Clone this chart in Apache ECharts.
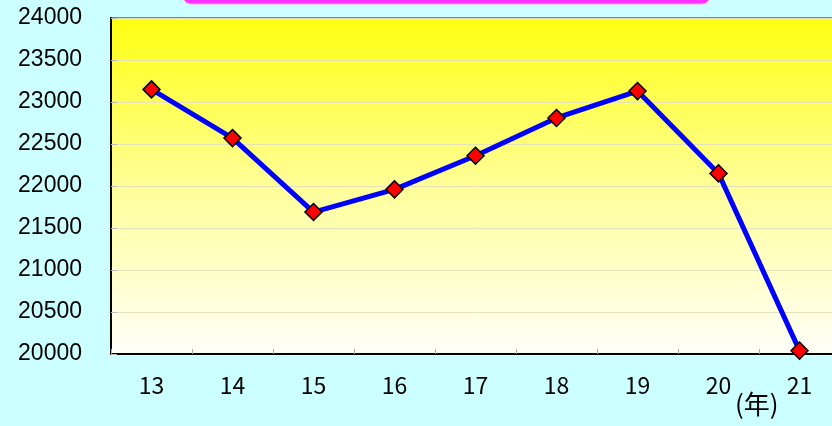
<!DOCTYPE html>
<html>
<head>
<meta charset="utf-8">
<script src="https://cdn.jsdelivr.net/npm/echarts@6/dist/echarts.min.js"></script>
<style>
  html, body { margin: 0; padding: 0; background: #ccffff; overflow: hidden; }
  #chart { width: 840px; height: 426px; }
</style>
</head>
<body>
<div id="chart"></div>
<script>
// 年（平成）
const years = ['13', '14', '15', '16', '17', '18', '19', '20', '21']
const values = [23150, 22570, 21690, 21960, 22360, 22810, 23130, 22150, 20040]
const yMin = 20000
const yMax = 24000
const yStep = 500

const chart = echarts.init(document.getElementById('chart'))

const option = {
  backgroundColor: '#ccffff',
  animation: false,
  grid: {
    left: 111,
    top: 18,
    right: 0,
    bottom: 72,
    show: true,
    borderColor: '#808080',
    borderWidth: 2,
    backgroundColor: {
      type: 'linear',
      x: 0, y: 0, x2: 0, y2: 1,
      colorStops: [
        { offset: 0, color: '#ffff10' },
        { offset: 0.5, color: '#ffff99' },
        { offset: 1, color: '#fffffa' }
      ]
    }
  },
  graphic: [
    {
      type: 'rect',
      shape: { x: 183, y: -20, width: 527, height: 24, r: 8 },
      style: { fill: '#ff33ff', stroke: '#ff99ff', lineWidth: 1 }
    },
    {
      type: 'text',
      left: 735,
      top: 391,
      style: {
        text: '(年)',
        fontSize: 26,
        fontFamily: 'Noto Sans CJK JP',
        fill: '#000'
      }
    }
  ],
  xAxis: {
    type: 'category',
    data: years,
    boundaryGap: true,
    axisLine: { lineStyle: { color: '#000', width: 2 } },
    axisTick: { show: true, inside: true, length: 5, lineStyle: { color: '#aaa' } },
    axisLabel: {
      margin: 20,
      fontSize: 23,
      fontFamily: 'Noto Sans CJK JP',
      color: '#000'
    },
    splitLine: { show: false }
  },
  yAxis: {
    type: 'value',
    min: yMin,
    max: yMax,
    interval: yStep,
    axisLine: { show: true, lineStyle: { color: '#000', width: 2 } },
    axisTick: { show: true, inside: true, length: 6, lineStyle: { color: '#bbb' } },
    axisLabel: {
      margin: 29,
      fontSize: 23,
      fontFamily: 'Liberation Sans',
      color: '#000',
      formatter: v => String(v)
    },
    splitLine: { show: true, lineStyle: { color: '#e6e2b8', width: 1 } }
  },
  series: [
    {
      type: 'line',
      data: values,
      symbol: 'diamond',
      symbolSize: 17,
      lineStyle: { color: '#0000ff', width: 5 },
      itemStyle: { color: '#ff0000', borderColor: '#000', borderWidth: 1.5 },
      z: 5
    }
  ]
}

chart.setOption(option)
</script>
</body>
</html>
